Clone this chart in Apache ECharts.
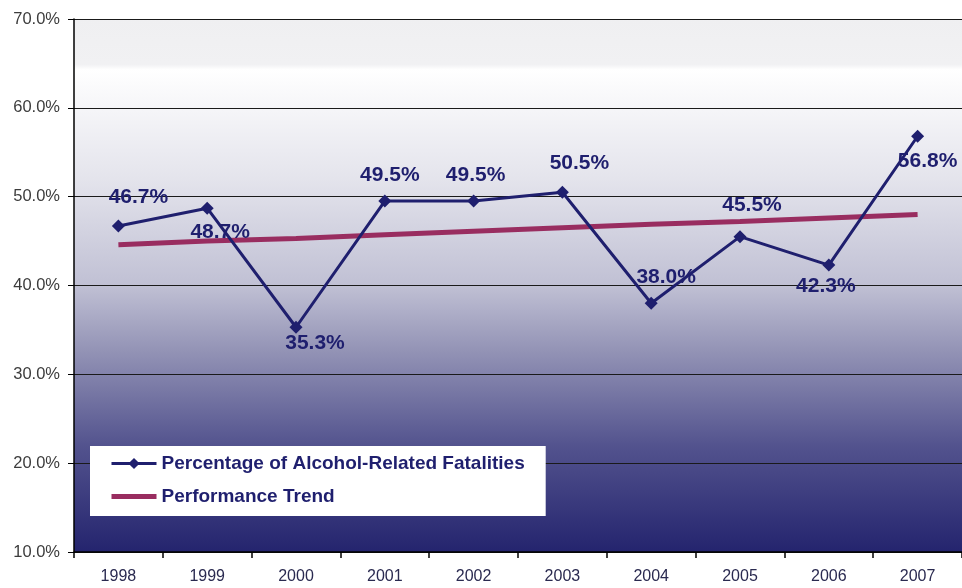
<!DOCTYPE html>
<html>
<head>
<meta charset="utf-8">
<script src="https://cdn.jsdelivr.net/npm/echarts@6/dist/echarts.min.js"></script>
<style>
html,body{margin:0;padding:0;background:#fff;}
#chart{width:962px;height:588px;}
</style>
</head>
<body>
<div id="chart"></div>
<script>
var years = ['1998','1999','2000','2001','2002','2003','2004','2005','2006','2007'];
var fatalities = [46.7, 48.7, 35.3, 49.5, 49.5, 50.5, 38.0, 45.5, 42.3, 56.8];
var trend = [44.6, 45.0, 45.3, 45.7, 46.1, 46.5, 46.9, 47.2, 47.6, 48.0];
var yTicks = [10, 20, 30, 40, 50, 60, 70];

// label placement (layout only)
var labelLayout = [
  ['top', 20, -7], ['bottom', 13, 2], ['bottom', 19, -6], ['top', 5, -4], ['top', 2, -4],
  ['top', 17, -7], ['top', 15, -4], ['top', 12, -9], ['bottom', -3, -1], ['bottom', 10, 3]
];

var navy = '#1f1f6e';
var font = 'Arial, "Liberation Sans", sans-serif';

var chart = echarts.init(document.getElementById('chart'));
chart.setOption({
  animation: false,
  grid: {left: 74, top: 19, width: 890, height: 533,
    show: true, borderWidth: 0,
    backgroundColor: {type: 'linear', x: 0, y: 0, x2: 0, y2: 1, colorStops: [
      {offset: 0, color: '#efeff1'},
      {offset: 0.085, color: '#f1f1f3'},
      {offset: 0.095, color: '#ffffff'},
      {offset: 0.3, color: '#e4e4ec'},
      {offset: 0.5, color: '#c0c0d4'},
      {offset: 0.62, color: '#9494b6'},
      {offset: 0.8, color: '#53538e'},
      {offset: 1, color: '#24246e'}
    ]}
  },
  legend: {
    orient: 'vertical', left: 90, top: 446,
    backgroundColor: '#ffffff',
    padding: [8, 21, 10, 20],
    itemWidth: 45, itemHeight: 14, itemGap: 14,
    textStyle: {fontFamily: font, fontWeight: 'bold', fontSize: 19, color: navy},
    data: [
      {name: 'Percentage of Alcohol-Related Fatalities', lineStyle: {width: 3}},
      {name: 'Performance Trend', icon: 'path://M0,0 L45,0 L45,5 L0,5 Z', itemStyle: {color: '#992d60'}}
    ]
  },
  xAxis: {
    type: 'category', data: years, boundaryGap: true,
    axisLine: {lineStyle: {color: '#000', width: 1.5}},
    axisTick: {show: true, length: 6, lineStyle: {color: '#000', width: 1.5}},
    axisLabel: {fontFamily: font, fontSize: 16, color: '#2a2a50', margin: 17}
  },
  yAxis: {
    type: 'value', min: yTicks[0], max: yTicks[yTicks.length - 1], interval: 10,
    axisLine: {show: true, lineStyle: {color: '#000', width: 1.5}},
    axisTick: {show: true, length: 6, lineStyle: {color: '#000'}},
    splitLine: {lineStyle: {color: '#1a1a1a', width: 1}},
    axisLabel: {fontFamily: font, fontSize: 16.5, color: '#3c3c3c', margin: 14,
      formatter: function (v) { return v.toFixed(1) + '%'; }}
  },
  series: [
    {
      name: 'Performance Trend', type: 'line', data: trend,
      symbol: 'none', z: 2,
      lineStyle: {color: '#992d60', width: 5},
      itemStyle: {color: '#992d60'}
    },
    {
      name: 'Percentage of Alcohol-Related Fatalities', type: 'line',
      data: fatalities.map(function (v, i) {
        var l = labelLayout[i];
        return {value: v, label: {position: l[0], offset: [l[1], l[2]]}};
      }),
      symbol: 'diamond', symbolSize: 13, z: 3,
      lineStyle: {color: navy, width: 3},
      itemStyle: {color: navy},
      label: {show: true, fontFamily: font, fontWeight: 'bold', fontSize: 21, color: navy,
        formatter: function (p) { return p.value.toFixed(1) + '%'; }}
    }
  ]
});
</script>
</body>
</html>
